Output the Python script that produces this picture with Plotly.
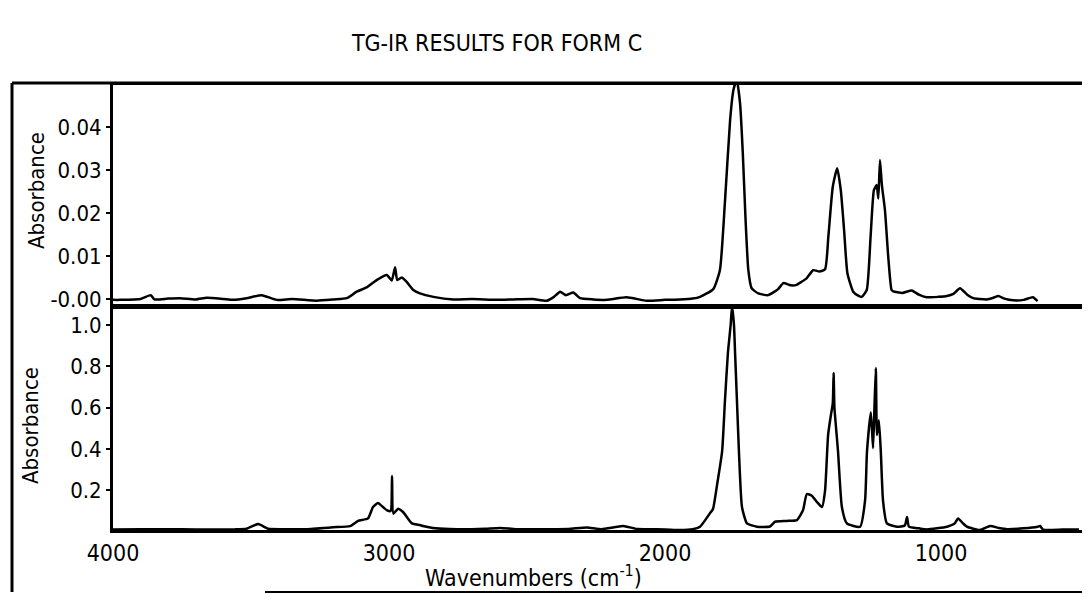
import plotly.graph_objects as go

# ---- Data (wavenumber cm^-1, absorbance) ----
top_wavenumbers = [4000, 3975, 3900, 3863, 3850, 3800, 3757, 3700, 3660, 3600, 3565, 3516,
                   3461, 3407, 3350, 3262, 3200, 3153, 3117, 3081, 3045, 3008, 2990, 2978,
                   2970, 2954, 2936, 2912, 2888, 2839, 2767, 2700, 2610, 2550, 2480, 2429,
                   2402, 2380, 2359, 2332, 2308, 2260, 2211, 2139, 2066, 2000, 1946, 1900,
                   1873, 1825, 1801, 1783, 1764, 1752, 1740, 1728, 1718, 1708, 1698, 1686,
                   1662, 1626, 1590, 1571, 1545, 1523, 1505, 1487, 1463, 1440, 1420, 1408,
                   1392, 1376, 1363, 1351, 1339, 1318, 1300, 1287, 1269, 1255, 1243, 1233,
                   1227, 1221, 1214, 1203, 1191, 1179, 1173, 1140, 1106, 1080, 1052, 1010,
                   979, 955, 931, 905, 883, 860, 834, 810, 792, 770, 738, 700, 667, 650]
top_absorbance = [-0.0002, -0.0002, 0.0000, 0.0009, -0.0001, 0.0001, 0.0002, -0.0001, 0.0003, 0.0000, -0.0002, 0.0002,
                  0.0009, -0.0002, 0.0000, -0.0004, -0.0001, 0.0002, 0.0017, 0.0027, 0.0044, 0.0056, 0.0043, 0.0074,
                  0.0044, 0.0050, 0.0040, 0.0021, 0.0013, 0.0005, -0.0001, 0.0000, -0.0002, -0.0001, 0.0000, -0.0004,
                  0.0005, 0.0017, 0.0009, 0.0015, 0.0002, -0.0001, -0.0002, 0.0004, -0.0004, -0.0002, -0.0001, 0.0001,
                  0.0005, 0.0023, 0.0067, 0.0223, 0.0416, 0.0486, 0.0510, 0.0455, 0.0339, 0.0184, 0.0067, 0.0025,
                  0.0013, 0.0009, 0.0023, 0.0037, 0.0032, 0.0033, 0.0040, 0.0048, 0.0067, 0.0064, 0.0069, 0.0145,
                  0.0261, 0.0304, 0.0253, 0.0160, 0.0060, 0.0017, 0.0008, 0.0005, 0.0021, 0.0145, 0.0253, 0.0265,
                  0.0234, 0.0323, 0.0265, 0.0207, 0.0098, 0.0021, 0.0018, 0.0014, 0.0020, 0.0010, 0.0004, 0.0005,
                  0.0007, 0.0012, 0.0025, 0.0010, 0.0002, 0.0000, -0.0001, 0.0003, 0.0007, 0.0001, -0.0003, -0.0002, 0.0004, -0.0005]

bottom_wavenumbers = [4000, 3900, 3800, 3700, 3650, 3560, 3516, 3474, 3438, 3380, 3300, 3203,
                      3141, 3112, 3076, 3058, 3040, 3022, 3007, 2994, 2989, 2984, 2967, 2949,
                      2917, 2888, 2877, 2841, 2780, 2700, 2650, 2598, 2540, 2450, 2350, 2283,
                      2230, 2152, 2100, 2000, 1946, 1900, 1873, 1837, 1826, 1812, 1793, 1783,
                      1772, 1762, 1757, 1750, 1746, 1739, 1732, 1721, 1703, 1667, 1620, 1601,
                      1560, 1522, 1500, 1486, 1468, 1449, 1431, 1420, 1409, 1399, 1392, 1389,
                      1386, 1380, 1373, 1359, 1341, 1293, 1275, 1268, 1254, 1246, 1241, 1236,
                      1232, 1225, 1218, 1210, 1196, 1160, 1131, 1123, 1116, 1080, 1051, 978,
                      950, 938, 920, 906, 859, 822, 790, 761, 700, 649, 641, 630, 560, 500]
bottom_absorbance = [0.011, 0.012, 0.012, 0.010, 0.010, 0.011, 0.014, 0.037, 0.014, 0.012, 0.012, 0.021,
                     0.027, 0.052, 0.064, 0.119, 0.138, 0.119, 0.103, 0.100, 0.269, 0.087, 0.111, 0.095,
                     0.040, 0.032, 0.027, 0.018, 0.013, 0.012, 0.014, 0.018, 0.012, 0.012, 0.013, 0.020,
                     0.012, 0.027, 0.013, 0.011, 0.008, 0.012, 0.024, 0.089, 0.110, 0.220, 0.388, 0.626,
                     0.864, 1.000, 1.090, 1.000, 0.864, 0.626, 0.388, 0.119, 0.040, 0.024, 0.025, 0.048,
                     0.052, 0.056, 0.103, 0.182, 0.174, 0.143, 0.119, 0.198, 0.467, 0.562, 0.620, 0.768,
                     0.600, 0.500, 0.388, 0.119, 0.040, 0.024, 0.151, 0.388, 0.578, 0.404, 0.600, 0.792,
                     0.467, 0.539, 0.388, 0.151, 0.040, 0.024, 0.030, 0.071, 0.024, 0.016, 0.011, 0.024,
                     0.040, 0.064, 0.040, 0.024, 0.008, 0.027, 0.018, 0.012, 0.016, 0.024, 0.027, 0.010, 0.010, 0.010]

x_tick_values = [4000, 3000, 2000, 1000]
x_tick_labels = ["4000", "3000", "2000", "1000"]
top_tick_values = [0.0, 0.01, 0.02, 0.03, 0.04]
top_tick_labels = ["-0.00", "0.01", "0.02", "0.03", "0.04"]
bottom_tick_values = [0.2, 0.4, 0.6, 0.8, 1.0]
bottom_tick_labels = ["0.2", "0.4", "0.6", "0.8", "1.0"]

FONT = "'DejaVu Sans Condensed', 'Liberation Sans Narrow', 'Arial Narrow', sans-serif"

# The page body has an 8px default margin; the figure is sized so it fits the 1090x594 window.
OFF = 8
W, H = 1090 - OFF, 594 - OFF
PL, PT, PB = 113, 85, 530          # plot-area edges in window pixels
PW, PH = 1090 - PL, PB - PT        # plot-area size


def px_x(px):
    return (px - PL) / PW


def px_y(py):
    return (PB - py) / PH


fig = go.Figure()
fig.add_trace(go.Scatter(x=top_wavenumbers, y=top_absorbance, mode="lines",
                         line=dict(color="black", width=2.5, shape="spline", smoothing=0.5),
                         xaxis="x2", yaxis="y2", showlegend=False))
fig.add_trace(go.Scatter(x=bottom_wavenumbers, y=bottom_absorbance, mode="lines",
                         line=dict(color="black", width=2.5, shape="spline", smoothing=0.5),
                         xaxis="x", yaxis="y", showlegend=False))

axis_common = dict(showline=True, linecolor="black", linewidth=3, showgrid=False, zeroline=False)
yfont = dict(family=FONT, size=22, color="black")
xfont = dict(family=FONT, size=23, color="black")

fig.update_layout(
    width=W, height=H,
    margin=dict(l=PL - OFF, r=0, t=PT - OFF, b=H - (PB - OFF)),
    paper_bgcolor="white", plot_bgcolor="white",
    title=dict(text="TG-IR RESULTS FOR FORM C", x=(497 - OFF) / W, xref="container", xanchor="center",
               y=1 - (43 - OFF) / H, yref="container", yanchor="middle",
               font=dict(family=FONT, size=23, color="black")),
    xaxis=dict(domain=[0, 1], range=[4000, 460], anchor="y", mirror=True,
               tickvals=x_tick_values, ticktext=x_tick_labels, ticks="", tickfont=xfont, **axis_common),
    xaxis2=dict(domain=[0, 1], matches="x", anchor="y2", mirror=True, showticklabels=False,
                ticks="", **axis_common),
    yaxis=dict(domain=[0, px_y(309)], range=[0.008, 1.077], anchor="x",
               tickvals=bottom_tick_values, ticktext=bottom_tick_labels, tickfont=yfont,
               ticks="outside", ticklen=4, tickwidth=2, tickcolor="black", **axis_common),
    yaxis2=dict(domain=[px_y(304), 1], range=[-0.00116, 0.04977], anchor="x2",
                tickvals=top_tick_values, ticktext=top_tick_labels, tickfont=yfont,
                ticks="outside", ticklen=4, tickwidth=2, tickcolor="black", **axis_common),
    showlegend=False,
)

ann_font = dict(family=FONT, size=22, color="black")
fig.add_annotation(text="Absorbance", x=px_x(36), y=px_y(191), xref="paper", yref="paper",
                   textangle=-90, showarrow=False, font=ann_font, xanchor="center", yanchor="middle")
fig.add_annotation(text="Absorbance", x=px_x(30), y=px_y(426), xref="paper", yref="paper",
                   textangle=-90, showarrow=False, font=ann_font, xanchor="center", yanchor="middle")
fig.add_annotation(text="Wavenumbers (cm<sup>-1</sup>)", x=px_x(533), y=px_y(576),
                   xref="paper", yref="paper", showarrow=False,
                   font=dict(family=FONT, size=23, color="black"),
                   xanchor="center", yanchor="middle")

# outer frame of the figure
fx0 = px_x(12)
fy_top = px_y(83)
fy_bot = px_y(592)
fig.add_shape(type="line", xref="paper", yref="paper", x0=fx0, x1=fx0, y0=fy_bot, y1=fy_top,
              line=dict(color="black", width=3))
fig.add_shape(type="line", xref="paper", yref="paper", x0=fx0, x1=1.0, y0=fy_top, y1=fy_top,
              line=dict(color="black", width=3))
fig.add_shape(type="line", xref="paper", yref="paper", x0=px_x(265), x1=1.0, y0=fy_bot, y1=fy_bot,
              line=dict(color="black", width=2))

fig.write_html("out.html")
